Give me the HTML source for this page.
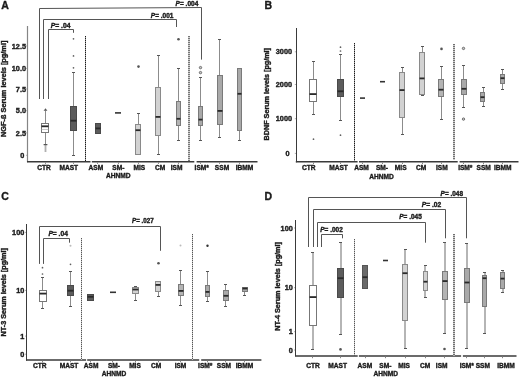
<!DOCTYPE html>
<html><head><meta charset="utf-8"><title>Figure</title>
<style>
html,body{margin:0;padding:0;background:#fff;}
body{width:520px;height:377px;overflow:hidden;}
svg{display:block;font-family:"Liberation Sans", sans-serif;}
text{stroke:#1a1a1a;stroke-width:0.36px;}
svg{filter:blur(0.35px);}
</style></head>
<body>
<svg width="520" height="377" viewBox="0 0 520 377">
<rect x="0" y="0" width="520" height="377" fill="#fff"/>
<text x="5" y="9.3" font-size="10.5" text-anchor="middle" font-weight="bold" fill="#1a1a1a" >A</text>
<line x1="27.5" y1="26" x2="27.5" y2="162.2" stroke="#858585" stroke-width="1.2" />
<line x1="27.0" y1="161.7" x2="90.5" y2="161.7" stroke="#3a3a3a" stroke-width="1.5" />
<line x1="91.8" y1="161.7" x2="194.3" y2="161.7" stroke="#3a3a3a" stroke-width="1.5" />
<line x1="196.6" y1="161.7" x2="257.5" y2="161.7" stroke="#3a3a3a" stroke-width="1.5" />
<text x="26.0" y="48.63" font-size="7.3" text-anchor="end" font-weight="bold" fill="#1a1a1a" >12.5</text>
<line x1="26.0" y1="46.0" x2="27.0" y2="46.0" stroke="#999" stroke-width="0.8" />
<text x="26.0" y="71.03" font-size="7.3" text-anchor="end" font-weight="bold" fill="#1a1a1a" >10.0</text>
<line x1="26.0" y1="68.4" x2="27.0" y2="68.4" stroke="#999" stroke-width="0.8" />
<text x="26.0" y="91.63" font-size="7.3" text-anchor="end" font-weight="bold" fill="#1a1a1a" >7.5</text>
<line x1="26.0" y1="89.0" x2="27.0" y2="89.0" stroke="#999" stroke-width="0.8" />
<text x="26.0" y="113.33" font-size="7.3" text-anchor="end" font-weight="bold" fill="#1a1a1a" >5.0</text>
<line x1="26.0" y1="110.7" x2="27.0" y2="110.7" stroke="#999" stroke-width="0.8" />
<text x="26.0" y="135.53" font-size="7.3" text-anchor="end" font-weight="bold" fill="#1a1a1a" >2.5</text>
<line x1="26.0" y1="132.9" x2="27.0" y2="132.9" stroke="#999" stroke-width="0.8" />
<text x="24.2" y="157.93" font-size="7.3" text-anchor="end" font-weight="bold" fill="#1a1a1a" >0</text>
<line x1="26.0" y1="155.3" x2="27.0" y2="155.3" stroke="#999" stroke-width="0.8" />
<text transform="translate(5.71,137.0) rotate(-90)" font-size="6.7" font-weight="bold" fill="#1a1a1a" textLength="96.4" lengthAdjust="spacingAndGlyphs">NGF-ß Serum levels [pg/ml]</text>
<line x1="85.5" y1="36" x2="85.5" y2="161" stroke="#999999" stroke-width="1.0" />
<line x1="85.5" y1="36" x2="85.5" y2="161" stroke="#1a1a1a" stroke-width="1.0" stroke-dasharray="1 1"/>
<line x1="189.0" y1="36" x2="189.0" y2="161" stroke="#b4b4b4" stroke-width="1.3" />
<line x1="189.0" y1="36" x2="189.0" y2="161" stroke="#4a4a4a" stroke-width="1.3" stroke-dasharray="1 1"/>
<polyline points="39.5,99 39.5,8.5 201.5,7.5 201.5,59.6" fill="none" stroke="#555555" stroke-width="1.0"/>
<polyline points="43.5,99 43.5,19.5 176.5,19.5 176.5,27.0" fill="none" stroke="#555555" stroke-width="1.0"/>
<polyline points="48.5,99 48.5,29.5 73.5,29.5 73.5,32.8" fill="none" stroke="#555555" stroke-width="1.0"/>
<text x="50.8" y="27.74" font-size="6.5" font-weight="bold" fill="#1a1a1a" textLength="19.7" lengthAdjust="spacingAndGlyphs"><tspan font-style="italic">P</tspan>= .04</text>
<text x="150.8" y="17.84" font-size="6.5" font-weight="bold" fill="#1a1a1a" textLength="22.7" lengthAdjust="spacingAndGlyphs"><tspan font-style="italic">P</tspan>= .001</text>
<text x="175.6" y="5.74" font-size="6.5" font-weight="bold" fill="#1a1a1a" textLength="22.7" lengthAdjust="spacingAndGlyphs"><tspan font-style="italic">P</tspan>= .004</text>
<line x1="45.5" y1="162.29999999999998" x2="45.5" y2="163.89999999999998" stroke="#888" stroke-width="1.0" />
<line x1="73.5" y1="162.29999999999998" x2="73.5" y2="163.89999999999998" stroke="#888" stroke-width="1.0" />
<line x1="97.5" y1="162.29999999999998" x2="97.5" y2="163.89999999999998" stroke="#888" stroke-width="1.0" />
<line x1="118.5" y1="162.29999999999998" x2="118.5" y2="163.89999999999998" stroke="#888" stroke-width="1.0" />
<line x1="138.5" y1="162.29999999999998" x2="138.5" y2="163.89999999999998" stroke="#888" stroke-width="1.0" />
<line x1="158.5" y1="162.29999999999998" x2="158.5" y2="163.89999999999998" stroke="#888" stroke-width="1.0" />
<line x1="178.5" y1="162.29999999999998" x2="178.5" y2="163.89999999999998" stroke="#888" stroke-width="1.0" />
<line x1="200.5" y1="162.29999999999998" x2="200.5" y2="163.89999999999998" stroke="#888" stroke-width="1.0" />
<line x1="219.5" y1="162.29999999999998" x2="219.5" y2="163.89999999999998" stroke="#888" stroke-width="1.0" />
<line x1="239.5" y1="162.29999999999998" x2="239.5" y2="163.89999999999998" stroke="#888" stroke-width="1.0" />
<line x1="45.5" y1="144.5" x2="45.5" y2="152" stroke="#b0b0b0" stroke-width="1.8" />
<line x1="45.5" y1="110.5" x2="45.5" y2="123" stroke="#8c8c8c" stroke-width="1.0" />
<line x1="45.5" y1="133" x2="45.5" y2="145.0" stroke="#8c8c8c" stroke-width="1.0" />
<rect x="41.50" y="123.50" width="7.00" height="9.00" fill="#ffffff" stroke="#777777" stroke-width="1.0"/>
<rect x="41.50" y="125.40" width="7.00" height="1.80" fill="#2a2a2a"/>
<path d="M43.6,110.8 L47.4,110.8 L45.5,108.2 Z" fill="#555"/>
<line x1="43.6" y1="144.6" x2="47.4" y2="144.6" stroke="#555555" stroke-width="1.2" />
<line x1="41.6" y1="129.5" x2="48.3" y2="129.5" stroke="#bbb" stroke-width="0.8" />
<line x1="73.5" y1="72.2" x2="73.5" y2="106" stroke="#8c8c8c" stroke-width="1.0" />
<line x1="72.0" y1="72.5" x2="75.0" y2="72.5" stroke="#555555" stroke-width="1.0" />
<line x1="73.5" y1="131" x2="73.5" y2="155.3" stroke="#8c8c8c" stroke-width="1.0" />
<line x1="72.0" y1="155.5" x2="75.0" y2="155.5" stroke="#555555" stroke-width="1.0" />
<rect x="70.50" y="106.50" width="6.00" height="24.00" fill="#5c5c5c" stroke="#4a4a4a" stroke-width="1.0"/>
<rect x="70.50" y="119.80" width="6.00" height="1.80" fill="#2a2a2a"/>
<circle cx="73.5" cy="38.8" r="0.85" fill="#606060"/>
<circle cx="73.5" cy="55.9" r="0.85" fill="#606060"/>
<circle cx="73.5" cy="67.8" r="0.85" fill="#606060"/>
<rect x="95.50" y="123.50" width="5.00" height="10.00" fill="#5c5c5c" stroke="#4a4a4a" stroke-width="1.0"/>
<rect x="95.50" y="127.50" width="5.00" height="1.80" fill="#2a2a2a"/>
<line x1="115" y1="112.9" x2="121" y2="112.9" stroke="#333" stroke-width="1.6" />
<line x1="138.5" y1="113.5" x2="138.5" y2="124" stroke="#8c8c8c" stroke-width="1.0" />
<line x1="137.0" y1="113.5" x2="140.0" y2="113.5" stroke="#555555" stroke-width="1.0" />
<rect x="135.50" y="124.50" width="5.00" height="30.00" fill="#d2d2d2" stroke="#8a8a8a" stroke-width="1.0"/>
<rect x="135.50" y="129.30" width="5.00" height="1.80" fill="#2a2a2a"/>
<circle cx="138.5" cy="66.6" r="1.3" fill="#555"/>
<line x1="158.5" y1="55.7" x2="158.5" y2="87" stroke="#8c8c8c" stroke-width="1.0" />
<line x1="157.0" y1="55.5" x2="160.0" y2="55.5" stroke="#555555" stroke-width="1.0" />
<line x1="158.5" y1="136" x2="158.5" y2="154.3" stroke="#8c8c8c" stroke-width="1.0" />
<line x1="157.0" y1="154.5" x2="160.0" y2="154.5" stroke="#555555" stroke-width="1.0" />
<rect x="155.50" y="87.50" width="5.00" height="48.00" fill="#d2d2d2" stroke="#8a8a8a" stroke-width="1.0"/>
<rect x="155.50" y="116.00" width="5.00" height="1.80" fill="#2a2a2a"/>
<line x1="178.5" y1="68.0" x2="178.5" y2="101" stroke="#8c8c8c" stroke-width="1.0" />
<line x1="177.0" y1="68.5" x2="180.0" y2="68.5" stroke="#555555" stroke-width="1.0" />
<line x1="178.5" y1="126" x2="178.5" y2="140.4" stroke="#8c8c8c" stroke-width="1.0" />
<line x1="177.0" y1="140.5" x2="180.0" y2="140.5" stroke="#555555" stroke-width="1.0" />
<rect x="176.50" y="101.50" width="4.00" height="24.00" fill="#b4b4b4" stroke="#7a7a7a" stroke-width="1.0"/>
<rect x="176.50" y="117.90" width="4.00" height="1.80" fill="#2a2a2a"/>
<circle cx="178.5" cy="39.2" r="1.3" fill="#555"/>
<line x1="200.5" y1="77.5" x2="200.5" y2="106" stroke="#8c8c8c" stroke-width="1.0" />
<line x1="199.0" y1="77.5" x2="202.0" y2="77.5" stroke="#555555" stroke-width="1.0" />
<line x1="200.5" y1="126" x2="200.5" y2="140.4" stroke="#8c8c8c" stroke-width="1.0" />
<line x1="199.0" y1="140.5" x2="202.0" y2="140.5" stroke="#555555" stroke-width="1.0" />
<rect x="198.50" y="106.50" width="4.00" height="19.00" fill="#a9a9a9" stroke="#7a7a7a" stroke-width="1.0"/>
<rect x="198.50" y="118.70" width="4.00" height="1.80" fill="#2a2a2a"/>
<circle cx="200.5" cy="67.6" r="1.2" fill="#c8c8c8" stroke="#555" stroke-width="0.8"/>
<circle cx="200.5" cy="72.6" r="1.2" fill="#c8c8c8" stroke="#555" stroke-width="0.8"/>
<line x1="219.5" y1="39.4" x2="219.5" y2="75" stroke="#8c8c8c" stroke-width="1.0" />
<line x1="218.0" y1="39.5" x2="221.0" y2="39.5" stroke="#555555" stroke-width="1.0" />
<line x1="219.5" y1="125" x2="219.5" y2="137.3" stroke="#8c8c8c" stroke-width="1.0" />
<line x1="218.0" y1="137.5" x2="221.0" y2="137.5" stroke="#555555" stroke-width="1.0" />
<rect x="217.50" y="75.50" width="5.00" height="49.00" fill="#a9a9a9" stroke="#7a7a7a" stroke-width="1.0"/>
<rect x="217.50" y="110.00" width="5.00" height="1.80" fill="#2a2a2a"/>
<line x1="239.5" y1="131" x2="239.5" y2="140.4" stroke="#8c8c8c" stroke-width="1.0" />
<line x1="238.0" y1="140.5" x2="241.0" y2="140.5" stroke="#555555" stroke-width="1.0" />
<rect x="237.50" y="68.50" width="4.00" height="62.00" fill="#a9a9a9" stroke="#7a7a7a" stroke-width="1.0"/>
<rect x="237.50" y="92.90" width="4.00" height="1.80" fill="#2a2a2a"/>
<text x="44.0" y="169.68" font-size="6.6" text-anchor="middle" font-weight="bold" fill="#1a1a1a" >CTR</text>
<text x="68.8" y="169.68" font-size="6.6" text-anchor="middle" font-weight="bold" fill="#1a1a1a" >MAST</text>
<text x="95.9" y="169.68" font-size="6.6" text-anchor="middle" font-weight="bold" fill="#1a1a1a" >ASM</text>
<text x="118.3" y="169.68" font-size="6.6" text-anchor="middle" font-weight="bold" fill="#1a1a1a" >SM-</text>
<text x="139.3" y="169.68" font-size="6.6" text-anchor="middle" font-weight="bold" fill="#1a1a1a" >MIS</text>
<text x="160.1" y="169.68" font-size="6.6" text-anchor="middle" font-weight="bold" fill="#1a1a1a" >CM</text>
<text x="176.6" y="169.68" font-size="6.6" text-anchor="middle" font-weight="bold" fill="#1a1a1a" >ISM</text>
<text x="201.7" y="169.68" font-size="6.6" text-anchor="middle" font-weight="bold" fill="#1a1a1a" >ISM*</text>
<text x="222.0" y="169.68" font-size="6.6" text-anchor="middle" font-weight="bold" fill="#1a1a1a" >SSM</text>
<text x="244.5" y="169.68" font-size="6.6" text-anchor="middle" font-weight="bold" fill="#1a1a1a" >IBMM</text>
<text x="118.2" y="178.38" font-size="6.6" text-anchor="middle" font-weight="bold" fill="#1a1a1a" >AHNMD</text>
<text x="268.4" y="9.3" font-size="10.5" text-anchor="middle" font-weight="bold" fill="#1a1a1a" >B</text>
<line x1="296.5" y1="28" x2="296.5" y2="162.3" stroke="#3a3a3a" stroke-width="1.0" />
<line x1="295.8" y1="161.8" x2="357.6" y2="161.8" stroke="#3a3a3a" stroke-width="1.5" />
<line x1="359.0" y1="161.8" x2="457.7" y2="161.8" stroke="#3a3a3a" stroke-width="1.5" />
<line x1="459.6" y1="161.8" x2="518.5" y2="161.8" stroke="#3a3a3a" stroke-width="1.5" />
<text x="292.0" y="54.43" font-size="7.3" text-anchor="end" font-weight="bold" fill="#1a1a1a" >3000</text>
<line x1="294.8" y1="51.8" x2="296.0" y2="51.8" stroke="#999" stroke-width="0.8" />
<text x="292.0" y="87.13" font-size="7.3" text-anchor="end" font-weight="bold" fill="#1a1a1a" >2000</text>
<line x1="294.8" y1="84.5" x2="296.0" y2="84.5" stroke="#999" stroke-width="0.8" />
<text x="292.0" y="121.33" font-size="7.3" text-anchor="end" font-weight="bold" fill="#1a1a1a" >1000</text>
<line x1="294.8" y1="118.7" x2="296.0" y2="118.7" stroke="#999" stroke-width="0.8" />
<text x="289.6" y="156.03" font-size="7.3" text-anchor="end" font-weight="bold" fill="#1a1a1a" >0</text>
<line x1="294.8" y1="153.4" x2="296.0" y2="153.4" stroke="#999" stroke-width="0.8" />
<text transform="translate(268.71,140.4) rotate(-90)" font-size="6.7" font-weight="bold" fill="#1a1a1a" textLength="92.4" lengthAdjust="spacingAndGlyphs">BDNF Serum levels [pg/ml]</text>
<line x1="354.5" y1="43" x2="354.5" y2="161" stroke="#999999" stroke-width="1.0" />
<line x1="354.5" y1="43" x2="354.5" y2="161" stroke="#1a1a1a" stroke-width="1.0" stroke-dasharray="1 1"/>
<line x1="454" y1="44" x2="454" y2="160" stroke="#c0c0c0" stroke-width="1.6" />
<line x1="454" y1="44" x2="454" y2="160" stroke="#5a5a5a" stroke-width="1.6" stroke-dasharray="1 1"/>
<line x1="313.5" y1="162.4" x2="313.5" y2="164.0" stroke="#888" stroke-width="1.0" />
<line x1="340.5" y1="162.4" x2="340.5" y2="164.0" stroke="#888" stroke-width="1.0" />
<line x1="362.5" y1="162.4" x2="362.5" y2="164.0" stroke="#888" stroke-width="1.0" />
<line x1="382.5" y1="162.4" x2="382.5" y2="164.0" stroke="#888" stroke-width="1.0" />
<line x1="402.5" y1="162.4" x2="402.5" y2="164.0" stroke="#888" stroke-width="1.0" />
<line x1="422.5" y1="162.4" x2="422.5" y2="164.0" stroke="#888" stroke-width="1.0" />
<line x1="441.5" y1="162.4" x2="441.5" y2="164.0" stroke="#888" stroke-width="1.0" />
<line x1="463.5" y1="162.4" x2="463.5" y2="164.0" stroke="#888" stroke-width="1.0" />
<line x1="483.5" y1="162.4" x2="483.5" y2="164.0" stroke="#888" stroke-width="1.0" />
<line x1="502.5" y1="162.4" x2="502.5" y2="164.0" stroke="#888" stroke-width="1.0" />
<line x1="313.5" y1="61.9" x2="313.5" y2="79" stroke="#8c8c8c" stroke-width="1.0" />
<line x1="312.0" y1="61.5" x2="315.0" y2="61.5" stroke="#555555" stroke-width="1.0" />
<line x1="313.5" y1="102" x2="313.5" y2="114.9" stroke="#8c8c8c" stroke-width="1.0" />
<line x1="312.0" y1="114.5" x2="315.0" y2="114.5" stroke="#555555" stroke-width="1.0" />
<rect x="309.50" y="79.50" width="7.00" height="22.00" fill="#ffffff" stroke="#777777" stroke-width="1.0"/>
<rect x="309.50" y="93.20" width="7.00" height="1.80" fill="#2a2a2a"/>
<circle cx="313.5" cy="139.2" r="0.85" fill="#606060"/>
<line x1="340.5" y1="54.3" x2="340.5" y2="79" stroke="#8c8c8c" stroke-width="1.0" />
<line x1="339.0" y1="54.5" x2="342.0" y2="54.5" stroke="#555555" stroke-width="1.0" />
<line x1="340.5" y1="97" x2="340.5" y2="120.5" stroke="#8c8c8c" stroke-width="1.0" />
<line x1="339.0" y1="120.5" x2="342.0" y2="120.5" stroke="#555555" stroke-width="1.0" />
<rect x="337.50" y="79.50" width="6.00" height="17.00" fill="#5c5c5c" stroke="#4a4a4a" stroke-width="1.0"/>
<rect x="337.50" y="90.40" width="6.00" height="1.80" fill="#2a2a2a"/>
<circle cx="340.5" cy="47.2" r="0.85" fill="#606060"/>
<circle cx="340.5" cy="51.0" r="0.85" fill="#606060"/>
<circle cx="340.5" cy="135.2" r="0.85" fill="#606060"/>
<line x1="360" y1="98.1" x2="365" y2="98.1" stroke="#333" stroke-width="1.6" />
<line x1="380" y1="81.7" x2="385" y2="81.7" stroke="#333" stroke-width="1.6" />
<line x1="402.5" y1="67.4" x2="402.5" y2="72" stroke="#8c8c8c" stroke-width="1.0" />
<line x1="401.0" y1="67.5" x2="404.0" y2="67.5" stroke="#555555" stroke-width="1.0" />
<line x1="402.5" y1="118" x2="402.5" y2="134.2" stroke="#8c8c8c" stroke-width="1.0" />
<line x1="401.0" y1="134.5" x2="404.0" y2="134.5" stroke="#555555" stroke-width="1.0" />
<rect x="399.50" y="72.50" width="5.00" height="45.00" fill="#d2d2d2" stroke="#8a8a8a" stroke-width="1.0"/>
<rect x="399.50" y="89.20" width="5.00" height="1.80" fill="#2a2a2a"/>
<line x1="422.5" y1="46.0" x2="422.5" y2="52" stroke="#8c8c8c" stroke-width="1.0" />
<line x1="421.0" y1="46.5" x2="424.0" y2="46.5" stroke="#555555" stroke-width="1.0" />
<line x1="422.5" y1="95" x2="422.5" y2="95.6" stroke="#8c8c8c" stroke-width="1.0" />
<line x1="421.0" y1="95.5" x2="424.0" y2="95.5" stroke="#555555" stroke-width="1.0" />
<rect x="419.50" y="52.50" width="5.00" height="42.00" fill="#d2d2d2" stroke="#8a8a8a" stroke-width="1.0"/>
<rect x="419.50" y="77.50" width="5.00" height="1.80" fill="#2a2a2a"/>
<line x1="441.5" y1="66.4" x2="441.5" y2="79" stroke="#8c8c8c" stroke-width="1.0" />
<line x1="440.0" y1="66.5" x2="443.0" y2="66.5" stroke="#555555" stroke-width="1.0" />
<line x1="441.5" y1="97" x2="441.5" y2="119.6" stroke="#8c8c8c" stroke-width="1.0" />
<line x1="440.0" y1="119.5" x2="443.0" y2="119.5" stroke="#555555" stroke-width="1.0" />
<rect x="438.50" y="79.50" width="5.00" height="17.00" fill="#b4b4b4" stroke="#7a7a7a" stroke-width="1.0"/>
<rect x="438.50" y="88.80" width="5.00" height="1.80" fill="#2a2a2a"/>
<circle cx="441.5" cy="48.9" r="1.3" fill="#555"/>
<line x1="463.5" y1="65.9" x2="463.5" y2="79" stroke="#8c8c8c" stroke-width="1.0" />
<line x1="462.0" y1="65.5" x2="465.0" y2="65.5" stroke="#555555" stroke-width="1.0" />
<line x1="463.5" y1="95" x2="463.5" y2="107.5" stroke="#8c8c8c" stroke-width="1.0" />
<line x1="462.0" y1="107.5" x2="465.0" y2="107.5" stroke="#555555" stroke-width="1.0" />
<rect x="461.50" y="79.50" width="5.00" height="15.00" fill="#a9a9a9" stroke="#7a7a7a" stroke-width="1.0"/>
<rect x="461.50" y="87.90" width="5.00" height="1.80" fill="#2a2a2a"/>
<circle cx="463.5" cy="48.4" r="1.2" fill="#c8c8c8" stroke="#555" stroke-width="0.8"/>
<circle cx="463.5" cy="119.1" r="1.2" fill="#c8c8c8" stroke="#555" stroke-width="0.8"/>
<line x1="483.5" y1="87.4" x2="483.5" y2="92" stroke="#8c8c8c" stroke-width="1.0" />
<line x1="482.0" y1="87.5" x2="485.0" y2="87.5" stroke="#555555" stroke-width="1.0" />
<line x1="483.5" y1="102" x2="483.5" y2="106.7" stroke="#8c8c8c" stroke-width="1.0" />
<line x1="482.0" y1="106.5" x2="485.0" y2="106.5" stroke="#555555" stroke-width="1.0" />
<rect x="480.50" y="92.50" width="4.00" height="9.00" fill="#a9a9a9" stroke="#7a7a7a" stroke-width="1.0"/>
<rect x="480.50" y="96.30" width="4.00" height="1.80" fill="#2a2a2a"/>
<line x1="502.5" y1="69.9" x2="502.5" y2="74" stroke="#8c8c8c" stroke-width="1.0" />
<line x1="501.0" y1="69.5" x2="504.0" y2="69.5" stroke="#555555" stroke-width="1.0" />
<line x1="502.5" y1="84" x2="502.5" y2="89.4" stroke="#8c8c8c" stroke-width="1.0" />
<line x1="501.0" y1="89.5" x2="504.0" y2="89.5" stroke="#555555" stroke-width="1.0" />
<rect x="500.50" y="74.50" width="4.00" height="9.00" fill="#a9a9a9" stroke="#7a7a7a" stroke-width="1.0"/>
<rect x="500.50" y="77.30" width="4.00" height="1.80" fill="#2a2a2a"/>
<text x="308.7" y="169.78" font-size="6.6" text-anchor="middle" font-weight="bold" fill="#1a1a1a" >CTR</text>
<text x="338.5" y="169.78" font-size="6.6" text-anchor="middle" font-weight="bold" fill="#1a1a1a" >MAST</text>
<text x="361.5" y="169.78" font-size="6.6" text-anchor="middle" font-weight="bold" fill="#1a1a1a" >ASM</text>
<text x="382.0" y="169.78" font-size="6.6" text-anchor="middle" font-weight="bold" fill="#1a1a1a" >SM-</text>
<text x="400.7" y="169.78" font-size="6.6" text-anchor="middle" font-weight="bold" fill="#1a1a1a" >MIS</text>
<text x="421.2" y="169.78" font-size="6.6" text-anchor="middle" font-weight="bold" fill="#1a1a1a" >CM</text>
<text x="441.8" y="169.78" font-size="6.6" text-anchor="middle" font-weight="bold" fill="#1a1a1a" >ISM</text>
<text x="465.3" y="169.78" font-size="6.6" text-anchor="middle" font-weight="bold" fill="#1a1a1a" >ISM*</text>
<text x="483.7" y="169.78" font-size="6.6" text-anchor="middle" font-weight="bold" fill="#1a1a1a" >SSM</text>
<text x="502.8" y="169.78" font-size="6.6" text-anchor="middle" font-weight="bold" fill="#1a1a1a" >IBMM</text>
<text x="381.5" y="178.78" font-size="6.6" text-anchor="middle" font-weight="bold" fill="#1a1a1a" >AHNMD</text>
<text x="5" y="199.5" font-size="10.5" text-anchor="middle" font-weight="bold" fill="#1a1a1a" >C</text>
<line x1="26.5" y1="224" x2="26.5" y2="360.6" stroke="#3a3a3a" stroke-width="1.0" />
<line x1="26.0" y1="360.1" x2="86.1" y2="360.1" stroke="#3a3a3a" stroke-width="1.5" />
<line x1="87.2" y1="360.1" x2="199.2" y2="360.1" stroke="#3a3a3a" stroke-width="1.5" />
<line x1="201.2" y1="360.1" x2="261.4" y2="360.1" stroke="#3a3a3a" stroke-width="1.5" />
<text x="24.3" y="235.03" font-size="7.3" text-anchor="end" font-weight="bold" fill="#1a1a1a" >100</text>
<line x1="25.0" y1="232.4" x2="26.0" y2="232.4" stroke="#999" stroke-width="0.8" />
<text x="24.3" y="293.03" font-size="7.3" text-anchor="end" font-weight="bold" fill="#1a1a1a" >10</text>
<line x1="25.0" y1="290.4" x2="26.0" y2="290.4" stroke="#999" stroke-width="0.8" />
<text x="24.3" y="338.73" font-size="7.3" text-anchor="end" font-weight="bold" fill="#1a1a1a" >1</text>
<line x1="25.0" y1="336.1" x2="26.0" y2="336.1" stroke="#999" stroke-width="0.8" />
<text x="24.3" y="356.83" font-size="7.3" text-anchor="end" font-weight="bold" fill="#1a1a1a" >0</text>
<line x1="25.0" y1="354.2" x2="26.0" y2="354.2" stroke="#999" stroke-width="0.8" />
<text transform="translate(5.81,336.4) rotate(-90)" font-size="6.7" font-weight="bold" fill="#1a1a1a" textLength="88.3" lengthAdjust="spacingAndGlyphs">NT-3 Serum levels [pg/ml]</text>
<line x1="81.5" y1="238" x2="81.5" y2="360" stroke="#c4c4c4" stroke-width="1.0" />
<line x1="81.5" y1="238" x2="81.5" y2="360" stroke="#555555" stroke-width="1.0" stroke-dasharray="1 1"/>
<line x1="192.5" y1="234" x2="192.5" y2="360" stroke="#c4c4c4" stroke-width="1.0" />
<line x1="192.5" y1="234" x2="192.5" y2="360" stroke="#555555" stroke-width="1.0" stroke-dasharray="1 1"/>
<polyline points="39.5,263.9 39.5,226.5 160.5,226.5 160.5,250.8" fill="none" stroke="#555555" stroke-width="1.0"/>
<polyline points="43.5,263.9 43.5,238.5 69.5,238.5 69.5,242.7" fill="none" stroke="#555555" stroke-width="1.0"/>
<text x="48.4" y="235.64" font-size="6.5" font-weight="bold" fill="#1a1a1a" textLength="19.5" lengthAdjust="spacingAndGlyphs"><tspan font-style="italic">P</tspan>= .04</text>
<text x="132.0" y="222.94" font-size="6.5" font-weight="bold" fill="#1a1a1a" textLength="21.8" lengthAdjust="spacingAndGlyphs"><tspan font-style="italic">P</tspan>= .027</text>
<line x1="42.5" y1="360.70000000000005" x2="42.5" y2="362.30000000000007" stroke="#888" stroke-width="1.0" />
<line x1="70.5" y1="360.70000000000005" x2="70.5" y2="362.30000000000007" stroke="#888" stroke-width="1.0" />
<line x1="90.5" y1="360.70000000000005" x2="90.5" y2="362.30000000000007" stroke="#888" stroke-width="1.0" />
<line x1="112.5" y1="360.70000000000005" x2="112.5" y2="362.30000000000007" stroke="#888" stroke-width="1.0" />
<line x1="135.5" y1="360.70000000000005" x2="135.5" y2="362.30000000000007" stroke="#888" stroke-width="1.0" />
<line x1="158.5" y1="360.70000000000005" x2="158.5" y2="362.30000000000007" stroke="#888" stroke-width="1.0" />
<line x1="180.5" y1="360.70000000000005" x2="180.5" y2="362.30000000000007" stroke="#888" stroke-width="1.0" />
<line x1="207.5" y1="360.70000000000005" x2="207.5" y2="362.30000000000007" stroke="#888" stroke-width="1.0" />
<line x1="225.5" y1="360.70000000000005" x2="225.5" y2="362.30000000000007" stroke="#888" stroke-width="1.0" />
<line x1="244.5" y1="360.70000000000005" x2="244.5" y2="362.30000000000007" stroke="#888" stroke-width="1.0" />
<line x1="42.5" y1="277.6" x2="42.5" y2="290" stroke="#8c8c8c" stroke-width="1.0" />
<line x1="41.0" y1="277.5" x2="44.0" y2="277.5" stroke="#555555" stroke-width="1.0" />
<line x1="42.5" y1="302" x2="42.5" y2="308.6" stroke="#8c8c8c" stroke-width="1.0" />
<line x1="41.0" y1="308.5" x2="44.0" y2="308.5" stroke="#555555" stroke-width="1.0" />
<rect x="39.50" y="290.50" width="7.00" height="11.00" fill="#ffffff" stroke="#777777" stroke-width="1.0"/>
<rect x="39.50" y="292.70" width="7.00" height="1.80" fill="#2a2a2a"/>
<circle cx="42.5" cy="267.7" r="0.85" fill="#606060"/>
<circle cx="42.5" cy="274.0" r="0.85" fill="#606060"/>
<line x1="70.5" y1="271.2" x2="70.5" y2="285" stroke="#8c8c8c" stroke-width="1.0" />
<line x1="69.0" y1="271.5" x2="72.0" y2="271.5" stroke="#555555" stroke-width="1.0" />
<line x1="70.5" y1="296" x2="70.5" y2="306.2" stroke="#8c8c8c" stroke-width="1.0" />
<line x1="69.0" y1="306.5" x2="72.0" y2="306.5" stroke="#555555" stroke-width="1.0" />
<rect x="67.50" y="285.50" width="6.00" height="10.00" fill="#5c5c5c" stroke="#4a4a4a" stroke-width="1.0"/>
<rect x="67.50" y="289.80" width="6.00" height="1.80" fill="#2a2a2a"/>
<circle cx="70.5" cy="245.7" r="1.0" fill="#bbb"/>
<circle cx="70.5" cy="264.3" r="0.85" fill="#606060"/>
<rect x="87.50" y="294.50" width="6.00" height="6.00" fill="#5c5c5c" stroke="#4a4a4a" stroke-width="1.0"/>
<rect x="87.50" y="295.90" width="6.00" height="1.80" fill="#2a2a2a"/>
<line x1="110" y1="292.3" x2="116" y2="292.3" stroke="#333" stroke-width="1.6" />
<line x1="135.5" y1="286.0" x2="135.5" y2="287" stroke="#8c8c8c" stroke-width="1.0" />
<line x1="134.0" y1="286.5" x2="137.0" y2="286.5" stroke="#555555" stroke-width="1.0" />
<line x1="135.5" y1="294" x2="135.5" y2="300.8" stroke="#8c8c8c" stroke-width="1.0" />
<line x1="134.0" y1="300.5" x2="137.0" y2="300.5" stroke="#555555" stroke-width="1.0" />
<rect x="132.50" y="287.50" width="6.00" height="6.00" fill="#d2d2d2" stroke="#8a8a8a" stroke-width="1.0"/>
<rect x="132.50" y="288.60" width="6.00" height="1.80" fill="#2a2a2a"/>
<line x1="158.5" y1="292" x2="158.5" y2="296.2" stroke="#8c8c8c" stroke-width="1.0" />
<line x1="157.0" y1="296.5" x2="160.0" y2="296.5" stroke="#555555" stroke-width="1.0" />
<rect x="155.50" y="281.50" width="5.00" height="10.00" fill="#d2d2d2" stroke="#8a8a8a" stroke-width="1.0"/>
<rect x="155.50" y="284.00" width="5.00" height="1.80" fill="#2a2a2a"/>
<circle cx="158.5" cy="263.3" r="1.3" fill="#555"/>
<line x1="180.5" y1="270.3" x2="180.5" y2="284" stroke="#8c8c8c" stroke-width="1.0" />
<line x1="179.0" y1="270.5" x2="182.0" y2="270.5" stroke="#555555" stroke-width="1.0" />
<line x1="180.5" y1="296" x2="180.5" y2="305.8" stroke="#8c8c8c" stroke-width="1.0" />
<line x1="179.0" y1="305.5" x2="182.0" y2="305.5" stroke="#555555" stroke-width="1.0" />
<rect x="178.50" y="284.50" width="5.00" height="11.00" fill="#b4b4b4" stroke="#7a7a7a" stroke-width="1.0"/>
<rect x="178.50" y="290.00" width="5.00" height="1.80" fill="#2a2a2a"/>
<circle cx="180.5" cy="245.4" r="1.0" fill="#bbb"/>
<line x1="207.5" y1="271.4" x2="207.5" y2="285" stroke="#8c8c8c" stroke-width="1.0" />
<line x1="206.0" y1="271.5" x2="209.0" y2="271.5" stroke="#555555" stroke-width="1.0" />
<line x1="207.5" y1="297" x2="207.5" y2="301.2" stroke="#8c8c8c" stroke-width="1.0" />
<line x1="206.0" y1="301.5" x2="209.0" y2="301.5" stroke="#555555" stroke-width="1.0" />
<rect x="205.50" y="285.50" width="4.00" height="11.00" fill="#a9a9a9" stroke="#7a7a7a" stroke-width="1.0"/>
<rect x="205.50" y="291.00" width="4.00" height="1.80" fill="#2a2a2a"/>
<circle cx="207.5" cy="245.8" r="1.2" fill="#333"/>
<line x1="225.5" y1="284.9" x2="225.5" y2="290" stroke="#8c8c8c" stroke-width="1.0" />
<line x1="224.0" y1="284.5" x2="227.0" y2="284.5" stroke="#555555" stroke-width="1.0" />
<line x1="225.5" y1="301" x2="225.5" y2="306.2" stroke="#8c8c8c" stroke-width="1.0" />
<line x1="224.0" y1="306.5" x2="227.0" y2="306.5" stroke="#555555" stroke-width="1.0" />
<rect x="223.50" y="290.50" width="5.00" height="10.00" fill="#a9a9a9" stroke="#7a7a7a" stroke-width="1.0"/>
<rect x="223.50" y="294.90" width="5.00" height="1.80" fill="#2a2a2a"/>
<line x1="244.5" y1="292" x2="244.5" y2="295.5" stroke="#8c8c8c" stroke-width="1.0" />
<line x1="243.0" y1="295.5" x2="246.0" y2="295.5" stroke="#555555" stroke-width="1.0" />
<rect x="242.50" y="287.50" width="5.00" height="4.00" fill="#a9a9a9" stroke="#7a7a7a" stroke-width="1.0"/>
<rect x="242.50" y="287.60" width="5.00" height="1.80" fill="#2a2a2a"/>
<text x="39.8" y="368.08" font-size="6.6" text-anchor="middle" font-weight="bold" fill="#1a1a1a" >CTR</text>
<text x="69.0" y="368.08" font-size="6.6" text-anchor="middle" font-weight="bold" fill="#1a1a1a" >MAST</text>
<text x="91.2" y="368.08" font-size="6.6" text-anchor="middle" font-weight="bold" fill="#1a1a1a" >ASM</text>
<text x="114.0" y="368.08" font-size="6.6" text-anchor="middle" font-weight="bold" fill="#1a1a1a" >SM-</text>
<text x="135.0" y="368.08" font-size="6.6" text-anchor="middle" font-weight="bold" fill="#1a1a1a" >MIS</text>
<text x="156.1" y="368.08" font-size="6.6" text-anchor="middle" font-weight="bold" fill="#1a1a1a" >CM</text>
<text x="180.5" y="368.08" font-size="6.6" text-anchor="middle" font-weight="bold" fill="#1a1a1a" >ISM</text>
<text x="205.2" y="368.08" font-size="6.6" text-anchor="middle" font-weight="bold" fill="#1a1a1a" >ISM*</text>
<text x="223.9" y="368.08" font-size="6.6" text-anchor="middle" font-weight="bold" fill="#1a1a1a" >SSM</text>
<text x="244.5" y="368.08" font-size="6.6" text-anchor="middle" font-weight="bold" fill="#1a1a1a" >IBMM</text>
<text x="114.0" y="376.38" font-size="6.6" text-anchor="middle" font-weight="bold" fill="#1a1a1a" >AHNMD</text>
<text x="268.4" y="199.8" font-size="10.5" text-anchor="middle" font-weight="bold" fill="#1a1a1a" >D</text>
<line x1="295.5" y1="220" x2="295.5" y2="356.5" stroke="#3a3a3a" stroke-width="1.0" />
<line x1="295.2" y1="356.0" x2="357.7" y2="356.0" stroke="#3a3a3a" stroke-width="1.5" />
<line x1="358.9" y1="356.0" x2="461.1" y2="356.0" stroke="#3a3a3a" stroke-width="1.5" />
<line x1="462.9" y1="356.0" x2="516.5" y2="356.0" stroke="#3a3a3a" stroke-width="1.5" />
<text x="292.8" y="230.63" font-size="7.3" text-anchor="end" font-weight="bold" fill="#1a1a1a" >100</text>
<line x1="294.0" y1="228.0" x2="295.0" y2="228.0" stroke="#999" stroke-width="0.8" />
<text x="292.8" y="290.33" font-size="7.3" text-anchor="end" font-weight="bold" fill="#1a1a1a" >10</text>
<line x1="294.0" y1="287.7" x2="295.0" y2="287.7" stroke="#999" stroke-width="0.8" />
<text x="292.8" y="334.33" font-size="7.3" text-anchor="end" font-weight="bold" fill="#1a1a1a" >1</text>
<line x1="294.0" y1="331.7" x2="295.0" y2="331.7" stroke="#999" stroke-width="0.8" />
<text x="292.8" y="352.63" font-size="7.3" text-anchor="end" font-weight="bold" fill="#1a1a1a" >0</text>
<line x1="294.0" y1="350.0" x2="295.0" y2="350.0" stroke="#999" stroke-width="0.8" />
<text transform="translate(280.01,330.8) rotate(-90)" font-size="6.7" font-weight="bold" fill="#1a1a1a" textLength="88.8" lengthAdjust="spacingAndGlyphs">NT-4 Serum levels [pg/ml]</text>
<line x1="354.5" y1="239" x2="354.5" y2="356" stroke="#c4c4c4" stroke-width="1.0" />
<line x1="354.5" y1="239" x2="354.5" y2="356" stroke="#555555" stroke-width="1.0" stroke-dasharray="1 1"/>
<line x1="454" y1="234" x2="454" y2="356" stroke="#c0c0c0" stroke-width="1.6" />
<line x1="454" y1="234" x2="454" y2="356" stroke="#5a5a5a" stroke-width="1.6" stroke-dasharray="1 1"/>
<polyline points="308.5,247 308.5,197.5 466.5,197.5 466.5,238.3" fill="none" stroke="#555555" stroke-width="1.0"/>
<polyline points="313.5,247 313.5,209.5 445.5,209.5 445.5,238.3" fill="none" stroke="#555555" stroke-width="1.0"/>
<polyline points="317.5,247 317.5,222.5 425.5,222.5 425.5,242.7" fill="none" stroke="#555555" stroke-width="1.0"/>
<polyline points="321.5,247 321.5,234.5 342.5,234.5 342.5,238.3" fill="none" stroke="#555555" stroke-width="1.0"/>
<text x="320.3" y="232.04" font-size="6.5" font-weight="bold" fill="#1a1a1a" textLength="22.5" lengthAdjust="spacingAndGlyphs"><tspan font-style="italic">P</tspan>= .002</text>
<text x="399.3" y="219.14" font-size="6.5" font-weight="bold" fill="#1a1a1a" textLength="22.5" lengthAdjust="spacingAndGlyphs"><tspan font-style="italic">P</tspan>= .045</text>
<text x="421.7" y="206.84" font-size="6.5" font-weight="bold" fill="#1a1a1a" textLength="19.5" lengthAdjust="spacingAndGlyphs"><tspan font-style="italic">P</tspan>= .02</text>
<text x="440.6" y="195.74" font-size="6.5" font-weight="bold" fill="#1a1a1a" textLength="22.4" lengthAdjust="spacingAndGlyphs"><tspan font-style="italic">P</tspan>= .048</text>
<line x1="312.5" y1="356.6" x2="312.5" y2="358.20000000000005" stroke="#888" stroke-width="1.0" />
<line x1="340.5" y1="356.6" x2="340.5" y2="358.20000000000005" stroke="#888" stroke-width="1.0" />
<line x1="365.5" y1="356.6" x2="365.5" y2="358.20000000000005" stroke="#888" stroke-width="1.0" />
<line x1="385.5" y1="356.6" x2="385.5" y2="358.20000000000005" stroke="#888" stroke-width="1.0" />
<line x1="405.5" y1="356.6" x2="405.5" y2="358.20000000000005" stroke="#888" stroke-width="1.0" />
<line x1="425.5" y1="356.6" x2="425.5" y2="358.20000000000005" stroke="#888" stroke-width="1.0" />
<line x1="444.5" y1="356.6" x2="444.5" y2="358.20000000000005" stroke="#888" stroke-width="1.0" />
<line x1="466.5" y1="356.6" x2="466.5" y2="358.20000000000005" stroke="#888" stroke-width="1.0" />
<line x1="484.5" y1="356.6" x2="484.5" y2="358.20000000000005" stroke="#888" stroke-width="1.0" />
<line x1="502.5" y1="356.6" x2="502.5" y2="358.20000000000005" stroke="#888" stroke-width="1.0" />
<line x1="313" y1="252.3" x2="313" y2="285" stroke="#a8a8a8" stroke-width="1.7" />
<line x1="311.0" y1="252.5" x2="314.0" y2="252.5" stroke="#555555" stroke-width="1.0" />
<line x1="313" y1="326" x2="313" y2="349.4" stroke="#a8a8a8" stroke-width="1.7" />
<line x1="311.0" y1="349.5" x2="314.0" y2="349.5" stroke="#555555" stroke-width="1.0" />
<rect x="309.50" y="285.50" width="7.00" height="40.00" fill="#ffffff" stroke="#777777" stroke-width="1.0"/>
<rect x="309.50" y="296.20" width="7.00" height="1.80" fill="#2a2a2a"/>
<line x1="341" y1="242.5" x2="341" y2="268" stroke="#a8a8a8" stroke-width="1.7" />
<line x1="339.0" y1="242.5" x2="342.0" y2="242.5" stroke="#555555" stroke-width="1.0" />
<line x1="341" y1="298" x2="341" y2="334.3" stroke="#a8a8a8" stroke-width="1.7" />
<line x1="339.0" y1="334.5" x2="342.0" y2="334.5" stroke="#555555" stroke-width="1.0" />
<rect x="337.50" y="268.50" width="6.00" height="29.00" fill="#5c5c5c" stroke="#4a4a4a" stroke-width="1.0"/>
<rect x="337.50" y="277.30" width="6.00" height="1.80" fill="#2a2a2a"/>
<circle cx="340.5" cy="349.4" r="1.3" fill="#555"/>
<rect x="362.50" y="265.50" width="5.00" height="23.00" fill="#6a6a6a" stroke="#555555" stroke-width="1.0"/>
<rect x="362.50" y="276.30" width="5.00" height="1.80" fill="#2a2a2a"/>
<line x1="383" y1="260.5" x2="388" y2="260.5" stroke="#333" stroke-width="1.6" />
<line x1="405" y1="249.0" x2="405" y2="264" stroke="#a8a8a8" stroke-width="1.7" />
<line x1="404.0" y1="249.5" x2="407.0" y2="249.5" stroke="#555555" stroke-width="1.0" />
<line x1="405" y1="321" x2="405" y2="349.0" stroke="#a8a8a8" stroke-width="1.7" />
<line x1="404.0" y1="348.5" x2="407.0" y2="348.5" stroke="#555555" stroke-width="1.0" />
<rect x="402.50" y="264.50" width="5.00" height="56.00" fill="#d2d2d2" stroke="#8a8a8a" stroke-width="1.0"/>
<rect x="402.50" y="272.30" width="5.00" height="1.80" fill="#2a2a2a"/>
<line x1="425" y1="265.8" x2="425" y2="271" stroke="#a8a8a8" stroke-width="1.7" />
<line x1="424.0" y1="265.5" x2="427.0" y2="265.5" stroke="#555555" stroke-width="1.0" />
<line x1="425" y1="291" x2="425" y2="297.7" stroke="#a8a8a8" stroke-width="1.7" />
<line x1="424.0" y1="297.5" x2="427.0" y2="297.5" stroke="#555555" stroke-width="1.0" />
<rect x="423.50" y="271.50" width="4.00" height="19.00" fill="#d2d2d2" stroke="#8a8a8a" stroke-width="1.0"/>
<rect x="423.50" y="280.80" width="4.00" height="1.80" fill="#2a2a2a"/>
<line x1="445" y1="242.0" x2="445" y2="271" stroke="#a8a8a8" stroke-width="1.7" />
<line x1="443.0" y1="242.5" x2="446.0" y2="242.5" stroke="#555555" stroke-width="1.0" />
<line x1="445" y1="300" x2="445" y2="333.5" stroke="#a8a8a8" stroke-width="1.7" />
<line x1="443.0" y1="333.5" x2="446.0" y2="333.5" stroke="#555555" stroke-width="1.0" />
<rect x="442.50" y="271.50" width="5.00" height="28.00" fill="#b4b4b4" stroke="#7a7a7a" stroke-width="1.0"/>
<rect x="442.50" y="280.20" width="5.00" height="1.80" fill="#2a2a2a"/>
<circle cx="444.5" cy="349.0" r="1.3" fill="#555"/>
<line x1="467" y1="243.0" x2="467" y2="268" stroke="#a8a8a8" stroke-width="1.7" />
<line x1="465.0" y1="243.5" x2="468.0" y2="243.5" stroke="#555555" stroke-width="1.0" />
<line x1="467" y1="303" x2="467" y2="349.0" stroke="#a8a8a8" stroke-width="1.7" />
<line x1="465.0" y1="348.5" x2="468.0" y2="348.5" stroke="#555555" stroke-width="1.0" />
<rect x="464.50" y="268.50" width="5.00" height="34.00" fill="#a9a9a9" stroke="#7a7a7a" stroke-width="1.0"/>
<rect x="464.50" y="281.60" width="5.00" height="1.80" fill="#2a2a2a"/>
<line x1="485" y1="272.3" x2="485" y2="275" stroke="#a8a8a8" stroke-width="1.7" />
<line x1="483.0" y1="272.5" x2="486.0" y2="272.5" stroke="#555555" stroke-width="1.0" />
<line x1="485" y1="307" x2="485" y2="333.9" stroke="#a8a8a8" stroke-width="1.7" />
<line x1="483.0" y1="333.5" x2="486.0" y2="333.5" stroke="#555555" stroke-width="1.0" />
<rect x="482.50" y="275.50" width="4.00" height="31.00" fill="#a9a9a9" stroke="#7a7a7a" stroke-width="1.0"/>
<rect x="482.50" y="277.30" width="4.00" height="1.80" fill="#2a2a2a"/>
<line x1="503" y1="270.4" x2="503" y2="272" stroke="#a8a8a8" stroke-width="1.7" />
<line x1="501.0" y1="270.5" x2="504.0" y2="270.5" stroke="#555555" stroke-width="1.0" />
<line x1="503" y1="289" x2="503" y2="292.7" stroke="#a8a8a8" stroke-width="1.7" />
<line x1="501.0" y1="292.5" x2="504.0" y2="292.5" stroke="#555555" stroke-width="1.0" />
<rect x="500.50" y="272.50" width="4.00" height="16.00" fill="#a9a9a9" stroke="#7a7a7a" stroke-width="1.0"/>
<rect x="500.50" y="277.70" width="4.00" height="1.80" fill="#2a2a2a"/>
<text x="313.0" y="367.58" font-size="6.6" text-anchor="middle" font-weight="bold" fill="#1a1a1a" >CTR</text>
<text x="337.6" y="367.58" font-size="6.6" text-anchor="middle" font-weight="bold" fill="#1a1a1a" >MAST</text>
<text x="364.9" y="367.58" font-size="6.6" text-anchor="middle" font-weight="bold" fill="#1a1a1a" >ASM</text>
<text x="385.3" y="367.58" font-size="6.6" text-anchor="middle" font-weight="bold" fill="#1a1a1a" >SM-</text>
<text x="404.1" y="367.58" font-size="6.6" text-anchor="middle" font-weight="bold" fill="#1a1a1a" >MIS</text>
<text x="425.1" y="367.58" font-size="6.6" text-anchor="middle" font-weight="bold" fill="#1a1a1a" >CM</text>
<text x="441.7" y="367.58" font-size="6.6" text-anchor="middle" font-weight="bold" fill="#1a1a1a" >ISM</text>
<text x="466.8" y="367.58" font-size="6.6" text-anchor="middle" font-weight="bold" fill="#1a1a1a" >ISM*</text>
<text x="482.8" y="367.58" font-size="6.6" text-anchor="middle" font-weight="bold" fill="#1a1a1a" >SSM</text>
<text x="506.0" y="367.58" font-size="6.6" text-anchor="middle" font-weight="bold" fill="#1a1a1a" >IBMM</text>
<text x="385.7" y="375.98" font-size="6.6" text-anchor="middle" font-weight="bold" fill="#1a1a1a" >AHNMD</text>
</svg>
</body></html>
